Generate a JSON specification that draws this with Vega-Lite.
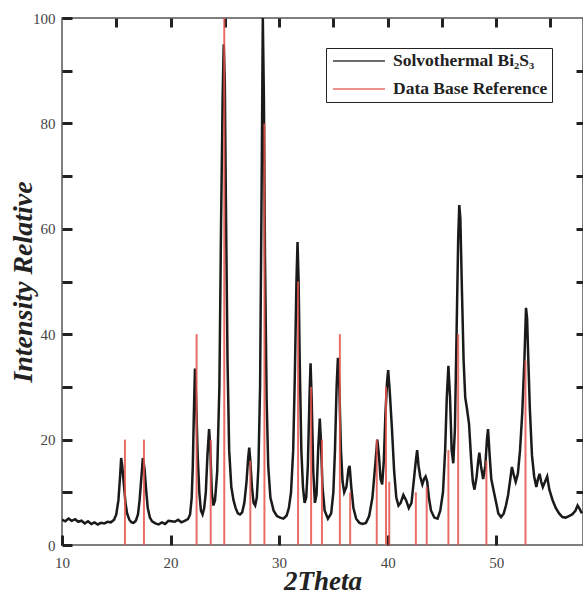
{
  "$schema": "https://vega.github.io/schema/vega-lite/v6.json",
  "autosize": {"type": "none"},
  "width": 521,
  "height": 527,
  "padding": {"left": 62, "top": 18, "right": 0, "bottom": 49},
  "background": "white",
  "config": {
    "view": {"stroke": "#555", "strokeWidth": 1.5},
    "axis": {"grid": false, "domain": false, "labelFlush": false,
             "labelFont": "Liberation Serif", "labelFontSize": 15, "labelColor": "#444",
             "titleFont": "Liberation Serif", "titleFontSize": 28, "titleFontWeight": "bold", "titleFontStyle": "italic", "titleColor": "#222"},
    "legend": {"orient": "none", "legendX": 264, "legendY": 30, "title": null,
               "symbolType": "M-3.25,0H3.25", "symbolSize": 256, "symbolStrokeWidth": 1.5, "symbolOffset": 20,
               "strokeColor": "#222", "fillColor": "white", "padding": 4, "rowPadding": 10,
               "labelFont": "Liberation Serif", "labelFontSize": 17.5, "labelFontWeight": "bold", "labelColor": "#222",
               "labelLimit": 400, "labelOffset": 25}
  },
  "datasets": {
    "curve": [
      {"x":10.0,"y":4.8},{"x":10.3,"y":4.5},{"x":10.6,"y":5.0},{"x":10.9,"y":4.6},{"x":11.2,"y":4.9},{"x":11.5,"y":4.4},{"x":11.8,"y":4.6},{"x":12.1,"y":4.1},{"x":12.4,"y":4.5},{"x":12.7,"y":4.0},{"x":13.0,"y":4.3},{"x":13.3,"y":3.9},{"x":13.6,"y":4.2},{"x":13.9,"y":4.1},{"x":14.2,"y":4.4},{"x":14.5,"y":4.3},{"x":14.8,"y":4.8},
      {"x":15.0,"y":5.8},{"x":15.2,"y":8.5},{"x":15.35,"y":13.0},{"x":15.45,"y":16.5},{"x":15.55,"y":15.0},{"x":15.7,"y":11.5},{"x":15.85,"y":8.0},{"x":16.0,"y":6.0},{"x":16.2,"y":4.8},{"x":16.4,"y":4.3},{"x":16.6,"y":4.2},{"x":16.8,"y":4.6},
      {"x":17.0,"y":5.8},{"x":17.15,"y":8.5},{"x":17.3,"y":12.5},{"x":17.45,"y":16.5},{"x":17.6,"y":14.5},{"x":17.75,"y":10.5},{"x":17.9,"y":7.0},{"x":18.1,"y":5.2},{"x":18.3,"y":4.5},{"x":18.6,"y":4.1},{"x":18.9,"y":3.9},{"x":19.2,"y":4.3},{"x":19.5,"y":4.0},{"x":19.8,"y":4.6},{"x":20.1,"y":4.5},{"x":20.4,"y":4.4},{"x":20.7,"y":4.8},{"x":21.0,"y":4.3},{"x":21.3,"y":4.6},{"x":21.6,"y":4.9},
      {"x":21.8,"y":5.8},{"x":21.95,"y":9.0},{"x":22.05,"y":15.0},{"x":22.15,"y":25.0},{"x":22.25,"y":33.5},{"x":22.35,"y":28.0},{"x":22.5,"y":17.0},{"x":22.65,"y":10.0},{"x":22.8,"y":6.5},{"x":22.95,"y":5.8},
      {"x":23.1,"y":7.0},{"x":23.25,"y":10.0},{"x":23.4,"y":17.0},{"x":23.55,"y":22.0},{"x":23.65,"y":19.0},{"x":23.8,"y":10.0},{"x":23.95,"y":7.5},
      {"x":24.1,"y":8.5},{"x":24.3,"y":14.0},{"x":24.5,"y":30.0},{"x":24.65,"y":60.0},{"x":24.8,"y":85.0},{"x":24.9,"y":95.0},{"x":25.0,"y":88.0},{"x":25.1,"y":65.0},{"x":25.25,"y":35.0},{"x":25.4,"y":18.0},{"x":25.6,"y":11.0},{"x":25.8,"y":8.5},{"x":26.0,"y":7.0},{"x":26.2,"y":6.0},{"x":26.4,"y":5.8},{"x":26.6,"y":6.2},
      {"x":26.8,"y":8.0},{"x":27.0,"y":12.0},{"x":27.15,"y":16.5},{"x":27.25,"y":18.5},{"x":27.35,"y":16.0},{"x":27.5,"y":11.0},{"x":27.65,"y":8.0},{"x":27.8,"y":7.5},
      {"x":27.95,"y":9.0},{"x":28.1,"y":15.0},{"x":28.25,"y":30.0},{"x":28.4,"y":70.0},{"x":28.5,"y":100.0},{"x":28.6,"y":85.0},{"x":28.7,"y":55.0},{"x":28.85,"y":28.0},{"x":29.0,"y":15.0},{"x":29.2,"y":9.0},{"x":29.5,"y":6.5},{"x":29.8,"y":5.5},{"x":30.1,"y":5.2},{"x":30.4,"y":5.0},{"x":30.7,"y":5.6},
      {"x":30.9,"y":7.0},{"x":31.1,"y":10.0},{"x":31.3,"y":18.0},{"x":31.45,"y":32.0},{"x":31.6,"y":50.0},{"x":31.7,"y":57.5},{"x":31.8,"y":50.0},{"x":31.9,"y":35.0},{"x":32.05,"y":18.0},{"x":32.2,"y":11.0},{"x":32.35,"y":8.0},
      {"x":32.5,"y":9.0},{"x":32.65,"y":15.0},{"x":32.8,"y":28.0},{"x":32.9,"y":34.5},{"x":33.0,"y":28.0},{"x":33.15,"y":14.0},{"x":33.3,"y":8.0},
      {"x":33.45,"y":9.5},{"x":33.6,"y":18.0},{"x":33.75,"y":24.0},{"x":33.85,"y":20.0},{"x":34.0,"y":11.0},{"x":34.2,"y":6.5},{"x":34.5,"y":5.0},
      {"x":34.8,"y":6.0},{"x":35.0,"y":10.0},{"x":35.15,"y":18.0},{"x":35.3,"y":30.0},{"x":35.42,"y":35.5},{"x":35.55,"y":30.0},{"x":35.7,"y":18.0},{"x":35.85,"y":12.0},{"x":36.0,"y":10.0},{"x":36.2,"y":11.0},{"x":36.4,"y":14.5},{"x":36.5,"y":15.0},{"x":36.65,"y":11.0},{"x":36.85,"y":7.0},{"x":37.1,"y":5.0},{"x":37.4,"y":4.2},{"x":37.7,"y":4.0},{"x":38.0,"y":4.2},
      {"x":38.3,"y":5.5},{"x":38.6,"y":9.0},{"x":38.85,"y":15.0},{"x":39.05,"y":20.0},{"x":39.2,"y":17.0},{"x":39.35,"y":12.5},{"x":39.5,"y":11.5},{"x":39.65,"y":16.0},{"x":39.8,"y":25.0},{"x":39.95,"y":31.0},{"x":40.05,"y":33.2},{"x":40.2,"y":29.0},{"x":40.4,"y":22.0},{"x":40.6,"y":14.0},{"x":40.8,"y":9.0},{"x":41.0,"y":7.5},{"x":41.2,"y":8.0},{"x":41.45,"y":9.5},{"x":41.7,"y":8.5},{"x":41.95,"y":7.0},
      {"x":42.2,"y":8.0},{"x":42.4,"y":12.0},{"x":42.6,"y":16.0},{"x":42.72,"y":18.0},{"x":42.85,"y":15.0},{"x":43.0,"y":13.0},{"x":43.2,"y":11.5},{"x":43.35,"y":12.5},{"x":43.5,"y":13.0},{"x":43.65,"y":12.0},{"x":43.8,"y":9.0},{"x":44.0,"y":6.5},{"x":44.3,"y":5.2},{"x":44.6,"y":5.0},
      {"x":44.85,"y":6.5},{"x":45.1,"y":10.0},{"x":45.3,"y":18.0},{"x":45.45,"y":28.0},{"x":45.6,"y":34.0},{"x":45.75,"y":28.0},{"x":45.9,"y":18.0},{"x":46.05,"y":15.5},{"x":46.2,"y":22.0},{"x":46.35,"y":40.0},{"x":46.5,"y":58.0},{"x":46.6,"y":64.5},{"x":46.7,"y":62.0},{"x":46.85,"y":48.0},{"x":47.0,"y":35.0},{"x":47.15,"y":28.0},{"x":47.3,"y":26.0},{"x":47.5,"y":23.0},{"x":47.7,"y":16.0},{"x":47.85,"y":12.0},{"x":48.0,"y":10.5},
      {"x":48.2,"y":13.0},{"x":48.35,"y":16.0},{"x":48.45,"y":17.5},{"x":48.6,"y":15.0},{"x":48.8,"y":12.5},{"x":49.0,"y":15.0},{"x":49.15,"y":20.0},{"x":49.25,"y":22.0},{"x":49.4,"y":17.0},{"x":49.55,"y":12.5},{"x":49.75,"y":10.5},{"x":50.0,"y":8.0},{"x":50.2,"y":6.0},{"x":50.45,"y":5.3},{"x":50.7,"y":6.0},
      {"x":50.9,"y":7.5},{"x":51.1,"y":9.5},{"x":51.3,"y":12.5},{"x":51.45,"y":14.8},{"x":51.6,"y":13.5},{"x":51.8,"y":12.0},{"x":52.0,"y":13.5},{"x":52.2,"y":18.0},{"x":52.4,"y":25.0},{"x":52.6,"y":35.0},{"x":52.75,"y":45.0},{"x":52.85,"y":43.0},{"x":52.95,"y":36.0},{"x":53.1,"y":26.0},{"x":53.3,"y":17.0},{"x":53.5,"y":13.0},{"x":53.7,"y":11.0},{"x":53.85,"y":12.5},{"x":54.0,"y":13.5},{"x":54.15,"y":12.0},{"x":54.3,"y":11.0},{"x":54.5,"y":12.0},{"x":54.7,"y":13.0},{"x":54.9,"y":10.5},
      {"x":55.2,"y":8.5},{"x":55.5,"y":7.0},{"x":55.8,"y":6.0},{"x":56.1,"y":5.3},{"x":56.4,"y":5.2},{"x":56.7,"y":5.5},{"x":57.0,"y":5.8},{"x":57.3,"y":6.5},{"x":57.5,"y":7.5},{"x":57.7,"y":6.8},{"x":57.9,"y":6.0}
    ],
    "ref": [
      {"x":15.8,"y":20},{"x":17.55,"y":20},{"x":22.4,"y":40},{"x":23.7,"y":20},{"x":24.95,"y":100},{"x":27.35,"y":16},{"x":28.65,"y":80},{"x":31.75,"y":50},{"x":32.95,"y":30},{"x":33.95,"y":20},{"x":35.6,"y":40},{"x":36.55,"y":10},{"x":39.0,"y":20},{"x":39.85,"y":30},{"x":40.15,"y":12},{"x":42.6,"y":10},{"x":43.6,"y":11},{"x":45.6,"y":18},{"x":46.5,"y":40},{"x":49.1,"y":16},{"x":52.7,"y":35}
    ]
  },
  "layer": [
    {
      "data": {"name": "curve"},
      "mark": {"type": "line", "strokeWidth": 2.5, "clip": true},
      "encoding": {
        "x": {"field": "x", "type": "quantitative", "scale": {"domain": [10, 58], "nice": false, "zero": false},
              "axis": {"orient": "bottom", "values": [10, 20, 30, 40, 50], "offset": -10, "ticks": true, "tickSize": 10, "tickColor": "#222", "tickWidth": 3, "labelPadding": 10,
                       "title": "2Theta", "titleFontSize": 27, "titleBaseline": "alphabetic", "titleY": 54}},
        "y": {"field": "y", "type": "quantitative", "scale": {"domain": [0, 100], "nice": false},
              "axis": {"orient": "left", "values": [0, 10, 20, 30, 40, 50, 60, 70, 80, 90, 100], "offset": -10, "ticks": true, "tickSize": 10, "tickColor": "#222", "tickWidth": 3, "labelPadding": 7,
                       "labelExpr": "datum.value % 20 === 0 ? datum.label : ''", "title": "Intensity Relative", "titleBaseline": "alphabetic", "titleX": -41}},
        "color": {"datum": "Solvothermal Bi₂S₃", "type": "nominal",
                  "scale": {"domain": ["Solvothermal Bi₂S₃", "Data Base Reference"], "range": ["#1a1a1a", "#e5534b"]}}
      }
    },
    {
      "data": {"name": "ref"},
      "mark": {"type": "rule", "strokeWidth": 2, "opacity": 0.85},
      "encoding": {
        "x": {"field": "x", "type": "quantitative",
              "axis": {"orient": "top", "values": [15, 20, 25, 30, 35, 40, 45, 50, 55], "offset": -9, "ticks": true, "tickSize": 9, "tickColor": "#222", "tickWidth": 3, "labels": false, "title": null}},
        "y": {"field": "y", "type": "quantitative",
              "axis": {"orient": "right", "values": [10, 20, 30, 40, 50, 60, 70, 80, 90], "offset": -7, "ticks": true, "tickSize": 7, "tickColor": "#222", "tickWidth": 3, "labels": false, "title": null}},
        "y2": {"datum": 0},
        "color": {"datum": "Data Base Reference", "type": "nominal"}
      }
    }
  ],
  "resolve": {"axis": {"x": "independent", "y": "independent"}}
}
